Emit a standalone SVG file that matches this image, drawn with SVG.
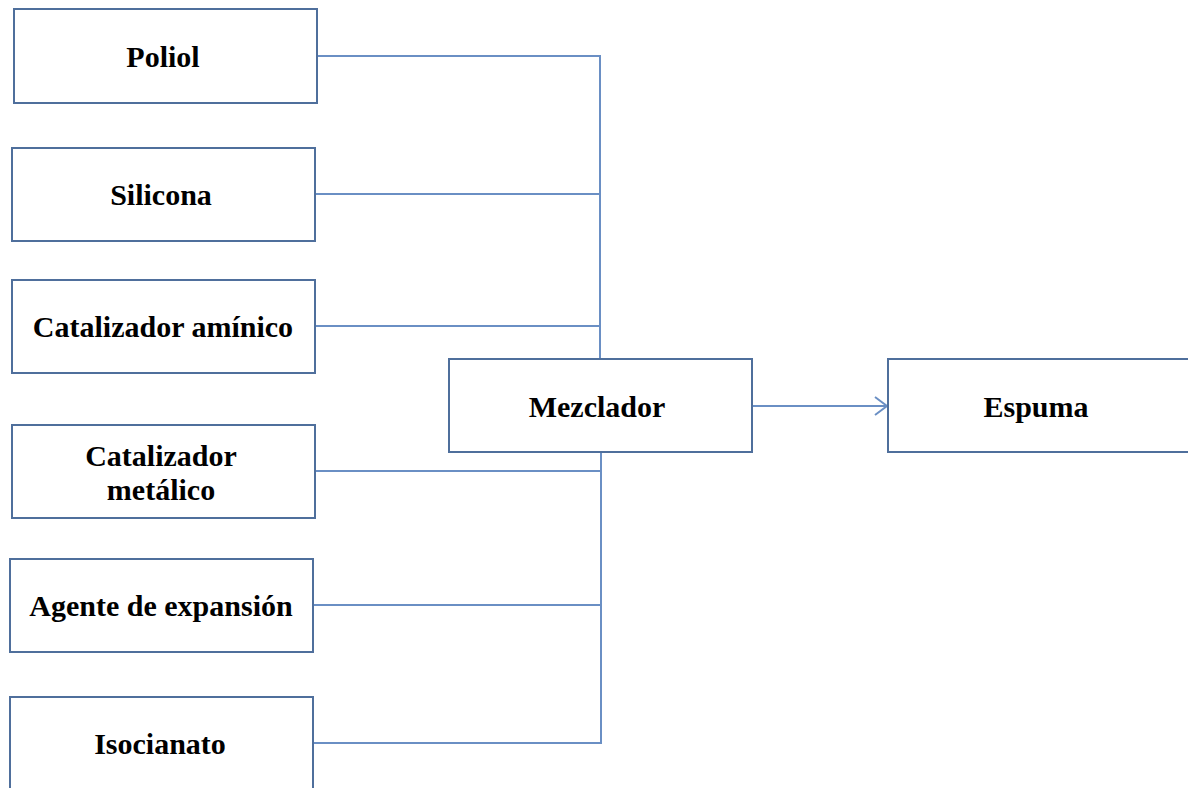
<svg xmlns="http://www.w3.org/2000/svg" width="1188" height="788" viewBox="0 0 1188 788">
<defs>
<style>
.box{fill:#fff;stroke:#4f6f9c;stroke-width:2}
.lbl{font-family:"Liberation Serif","Times New Roman",serif;font-weight:bold;font-size:30px;fill:#000;text-anchor:middle;dominant-baseline:central}
.con{fill:none;stroke:#6a8fc4;stroke-width:2}
</style>
<marker id="arr" viewBox="0 0 14 20" refX="13" refY="10" markerWidth="14" markerHeight="20" markerUnits="userSpaceOnUse" orient="auto">
<path d="M1,1 L13,10 L1,19" fill="none" stroke="#6a8fc4" stroke-width="2"/>
</marker>
</defs>
<rect width="1188" height="788" fill="#fff"/>
<g id="connectors">
<line class="con" x1="317" y1="56" x2="601" y2="56"/>
<line class="con" x1="315" y1="194" x2="601" y2="194"/>
<line class="con" x1="315" y1="326" x2="601" y2="326"/>
<line class="con" x1="600" y1="55" x2="600" y2="359"/>
<line class="con" x1="315" y1="471" x2="601" y2="471"/>
<line class="con" x1="313" y1="605" x2="601" y2="605"/>
<line class="con" x1="313" y1="743" x2="601" y2="743"/>
<line class="con" x1="601" y1="452" x2="601" y2="744"/>
<line class="con" x1="752" y1="406" x2="887" y2="406" marker-end="url(#arr)"/>
</g>
<g id="poliol"><rect class="box" x="14" y="9" width="303" height="94"/><text class="lbl" x="163" y="56">Poliol</text></g>
<g id="silicona"><rect class="box" x="12" y="148" width="303" height="93"/><text class="lbl" x="161" y="194">Silicona</text></g>
<g id="cat-aminico"><rect class="box" x="12" y="280" width="303" height="93"/><text class="lbl" x="163" y="326">Catalizador amínico</text></g>
<g id="cat-metalico"><rect class="box" x="12" y="425" width="303" height="93"/><text class="lbl" x="161" y="455">Catalizador</text><text class="lbl" x="161" y="489">metálico</text></g>
<g id="agente"><rect class="box" x="10" y="559" width="303" height="93"/><text class="lbl" x="161" y="605">Agente de expansión</text></g>
<g id="isocianato"><rect class="box" x="10" y="697" width="303" height="100"/><text class="lbl" x="160" y="743">Isocianato</text></g>
<g id="mezclador"><rect class="box" x="449" y="359" width="303" height="93"/><text class="lbl" x="597" y="406">Mezclador</text></g>
<g id="espuma"><rect class="box" x="888" y="359" width="310" height="93"/><text class="lbl" x="1036" y="406">Espuma</text></g>
</svg>
